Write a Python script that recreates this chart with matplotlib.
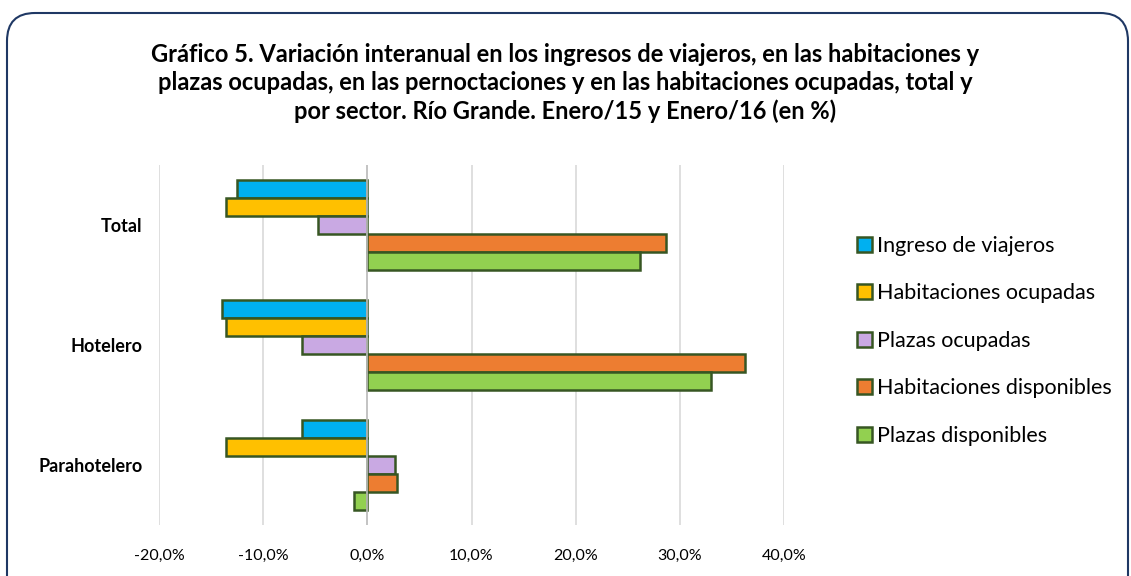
import numpy as np
import matplotlib
matplotlib.use("Agg")
import matplotlib.pyplot as plt
from matplotlib.patches import FancyBboxPatch
from matplotlib.transforms import IdentityTransform
from matplotlib.ticker import FuncFormatter

plt.rcParams['font.family'] = ['Lato', 'DejaVu Sans']

# Data (values in %)
sectors = ["Total", "Hotelero", "Parahotelero"]
series = ["Ingreso de viajeros", "Habitaciones ocupadas", "Plazas ocupadas",
          "Habitaciones disponibles", "Plazas disponibles"]
ingreso = [-12.5, -14.0, -6.3]
hab_ocup = [-13.6, -13.6, -13.6]
plazas_ocup = [-4.7, -6.3, 2.7]
hab_disp = [28.7, 36.3, 2.8]
plazas_disp = [26.2, 33.0, -1.3]
values = [ingreso, hab_ocup, plazas_ocup, hab_disp, plazas_disp]
colors = ["#00B0F0", "#FFC000", "#C9A9E3", "#ED7D31", "#92D050"]
edge = "#375623"

title = ("Gráfico 5. Variación interanual en los ingresos de viajeros, en las habitaciones y\n"
         "plazas ocupadas, en las pernoctaciones y en las habitaciones ocupadas, total y\n"
         "por sector. Río Grande. Enero/15 y Enero/16 (en %)")

fig = plt.figure(figsize=(11.31, 5.76), dpi=100)
ax = fig.add_axes([159 / 1131, 51 / 576, 625 / 1131, 360 / 576])

y = np.arange(len(sectors))
h = 0.15
for i, (vals, c, name) in enumerate(zip(values, colors, series)):
    ax.barh(y - 0.3 + i * h, vals, height=h, color=c, edgecolor=edge,
            linewidth=1.8, label=name, zorder=3)

ax.set_xlim(-20, 40)
ax.set_ylim(2.5, -0.5)
ax.set_xticks(np.arange(-20, 41, 10))
ax.xaxis.set_major_formatter(FuncFormatter(lambda v, p: f"{v:.1f}%".replace(".", ",")))
ax.set_yticks(y)
ax.set_yticklabels(sectors, fontweight="bold", fontsize=13)
ax.tick_params(axis="x", labelsize=11.5, length=0, pad=17)
ax.tick_params(axis="y", length=0, pad=12)
ax.grid(axis="x", color="#D9D9D9", linewidth=1.2, zorder=0)
ax.axvline(0, color="#BFBFBF", linewidth=1.2, zorder=4)
for s in ax.spines.values():
    s.set_visible(False)

fig.text(0.5, 1 - 83 / 576, title, ha="center", va="center", fontsize=17,
         fontweight="bold", linespacing=1.27)

fig.legend(loc="upper left", bbox_to_anchor=(848 / 1131, 1 - 227 / 576),
           frameon=False, fontsize=15.5, handlelength=0.7, handleheight=0.7,
           handletextpad=0.25, labelspacing=1.28, borderaxespad=0)

border = FancyBboxPatch((7, -30), 1121, 593, boxstyle="round,pad=0,rounding_size=28",
                        transform=IdentityTransform(), facecolor="none",
                        edgecolor="#1F3864", linewidth=1.5)
fig.patches.append(border)

fig.savefig("out.png", dpi=100)
